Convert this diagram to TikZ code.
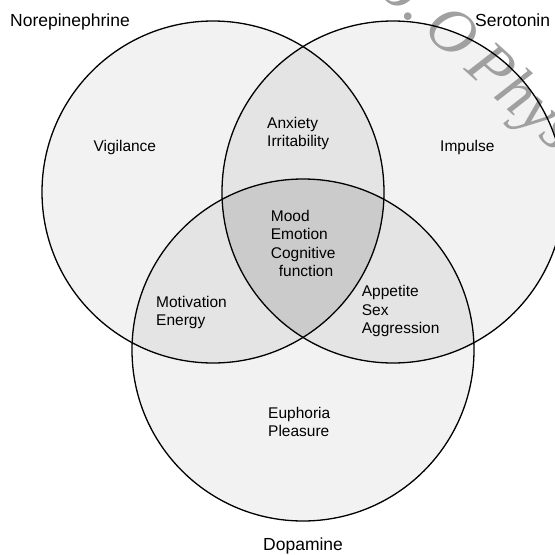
\documentclass[tikz,border=0pt]{standalone}
\usepackage{fontspec}
\setmainfont{Liberation Sans}
\newfontfamily\wmfont{Liberation Serif}
\definecolor{gone}{HTML}{F2F2F2}
\definecolor{gtwo}{HTML}{E4E4E4}
\definecolor{gthree}{HTML}{CBCBCB}
\definecolor{wmgray}{HTML}{A0A0A0}
\begin{document}
\begin{tikzpicture}[x=1pt,y=-1pt,
  lbl/.style={font=\fontsize{17.5}{21}\selectfont, inner sep=0pt, anchor=base west},
  txt/.style={font=\fontsize{15.5}{18.5}\selectfont, inner sep=0pt, anchor=base west},
  circ/.style={draw=black, line width=1.3pt}]
\useasboundingbox (0,0) rectangle (555,555);
\clip (0,0) rectangle (555,555);
\coordinate (cN) at (213,192);
\coordinate (cS) at (393,192);
\coordinate (cD) at (303,350);
% single fills
\fill[gone] (cN) circle[radius=171pt];
\fill[gone] (cS) circle[radius=171pt];
\fill[gone] (cD) circle[radius=171pt];
% pairwise overlaps
\begin{scope}
  \clip (cN) circle[radius=171pt];
  \fill[gtwo] (cS) circle[radius=171pt];
  \fill[gtwo] (cD) circle[radius=171pt];
\end{scope}
\begin{scope}
  \clip (cS) circle[radius=171pt];
  \fill[gtwo] (cD) circle[radius=171pt];
\end{scope}
% triple overlap
\begin{scope}
  \clip (cN) circle[radius=171pt];
  \clip (cS) circle[radius=171pt];
  \fill[gthree] (cD) circle[radius=171pt];
\end{scope}
% watermark
\node[font=\wmfont\itshape\fontsize{64}{64}\selectfont, text=wmgray, rotate=-42, anchor=base west, inner sep=0pt] (wm) at (346,-36) {Co.\,O\,Phys};
% outlines
\draw[circ] (cN) circle[radius=171pt];
\draw[circ] (cS) circle[radius=171pt];
\draw[circ] (cD) circle[radius=171pt];
% labels
\node[lbl] (ne) at (10,26.7) {Norepinephrine};
\node[lbl] (se) at (475,26.7) {Serotonin};
\node[lbl] (da) at (263,550) {Dopamine};
% region texts
\node[txt] (vig) at (93.3,151.7) {Vigilance};
\node[txt] (imp) at (440,151.7) {Impulse};
\node[txt] (anx) at (267,128) {Anxiety};
\node[txt] (irr) at (267,146) {Irritability};
\node[txt] (moo) at (270.7,221) {Mood};
\node[txt] (emo) at (270.7,239.5) {Emotion};
\node[txt] (cog) at (270.7,258) {Cognitive};
\node[txt] (fun) at (278.7,276.5) {function};
\node[txt] (mot) at (156,307.3) {Motivation};
\node[txt] (ene) at (156,325.5) {Energy};
\node[txt] (app) at (361.7,296.7) {Appetite};
\node[txt] (sex) at (361.7,315) {Sex};
\node[txt] (agg) at (361.7,333.3) {Aggression};
\node[txt] (eup) at (268,418.3) {Euphoria};
\node[txt] (ple) at (268,436.7) {Pleasure};
\end{tikzpicture}
\end{document}
